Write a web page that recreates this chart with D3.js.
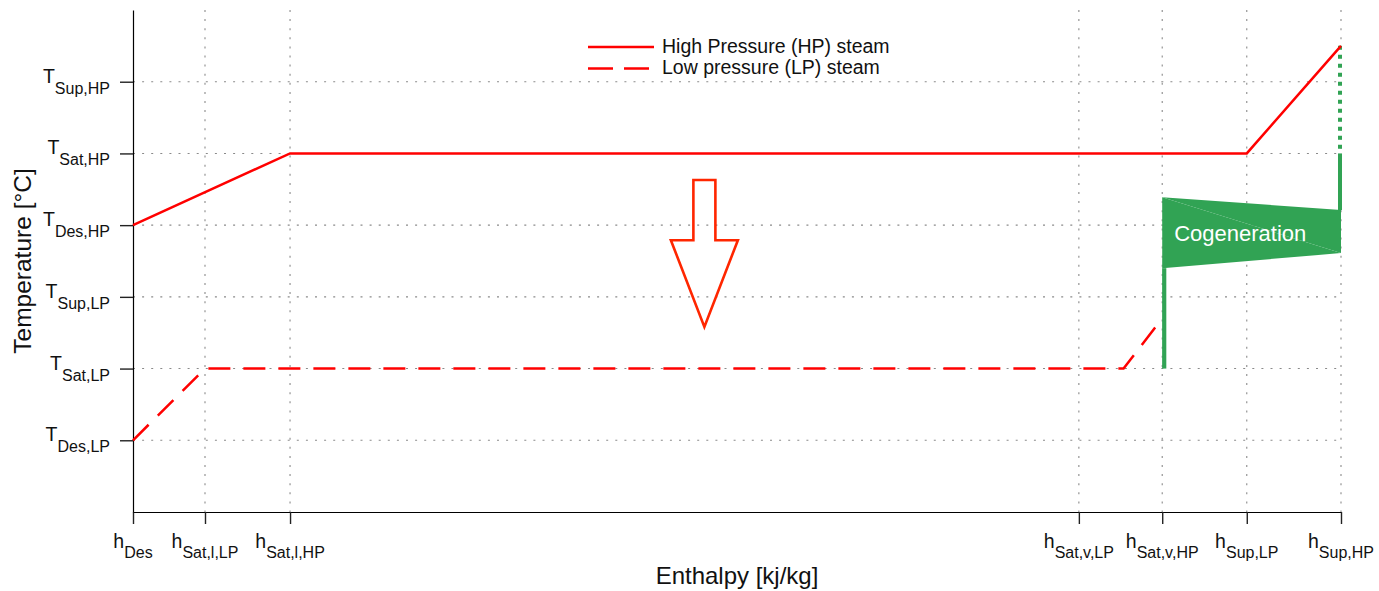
<!DOCTYPE html>
<html>
<head>
<meta charset="utf-8">
<script src="https://cdn.jsdelivr.net/npm/d3@7"></script>
<style>
  html, body { margin: 0; padding: 0; background: #fff; }
  svg { display: block; font-family: "Liberation Sans", Arial, Helvetica, sans-serif; }
</style>
</head>
<body>
<svg id="chart" width="1379" height="591"></svg>
<script>
// Enthalpy tick positions (relative scale) and their subscript labels
const hTickSubs   = ["Des", "Sat,l,LP", "Sat,l,HP", "Sat,v,LP", "Sat,v,HP", "Sup,LP", "Sup,HP"];
const hTickValues = [0, 5.96, 13.0, 78.3, 85.2, 92.2, 100];

// Temperature tick positions (relative scale) and their subscript labels
const tTickSubs   = ["Des,LP", "Sat,LP", "Sup,LP", "Des,HP", "Sat,HP", "Sup,HP"];
const tTickValues = [1, 2, 3, 4, 5, 6];

// High pressure steam profile: enthalpy / temperature
const hpH = [0, 13.0, 92.2, 100];
const hpT = [4, 5, 5, 6.5];

// Low pressure steam profile
const lpH = [0, 5.96, 82.0, 85.2];
const lpT = [1, 2, 2, 2.7];

// Cogeneration band: left and right edges (enthalpy, lower / upper temperature)
const cogenH     = [85.2, 100];
const cogenLower = [3.40, 3.61];
const cogenUpper = [4.39, 4.21];

// Vertical stems attached to the band
const stemLeftT     = [2, 3.40];  // at h = 85.2
const stemRightT    = [3.61, 5];  // solid, at h = 100
const stemRightDotT = [5, 6.5];   // dotted, at h = 100

// Downward arrow: centre enthalpy, shaft top, shoulder, tip temperature
const arrowH = 47.3;
const arrowT = [4.63, 3.79, 2.58];

const legendItems = ["High Pressure (HP) steam", "Low pressure (LP) steam"];

const svg = d3.select("#chart");
const RED = "#ff0000";
const GREEN = "#31a354";
const DASH = "22,13";

const x = d3.scaleLinear().domain([0, 100]).range([133, 1341]);
const y = d3.scaleLinear().domain([0, 7]).range([512, 10]);

// Dotted grid
const grid = svg.append("g").attr("stroke", "#8a8a8a").attr("stroke-width", 1.1)
  .attr("stroke-dasharray", "2,7.1");
grid.selectAll("line.v").data(hTickValues.slice(1)).join("line")
  .attr("class", "v")
  .attr("x1", d => x(d)).attr("x2", d => x(d))
  .attr("y1", y(7)).attr("y2", y(0));
grid.selectAll("line.h").data(tTickValues).join("line")
  .attr("class", "h")
  .attr("x1", x(0)).attr("x2", x(100))
  .attr("y1", d => y(d)).attr("y2", d => y(d));

// Axes
const xAxis = d3.axisBottom(x).tickValues(hTickValues).tickSizeInner(12).tickSizeOuter(0).tickFormat("");
const yAxis = d3.axisLeft(y).tickValues(tTickValues).tickSizeInner(13).tickSizeOuter(0).tickFormat("");
const gx = svg.append("g").attr("transform", `translate(0,${y(0)})`).call(xAxis);
const gy = svg.append("g").attr("transform", `translate(${x(0)},0)`).call(yAxis);
[gx, gy].forEach(g => {
  g.select(".domain").attr("stroke", "#000").attr("stroke-width", 1.2);
  g.selectAll(".tick line").attr("stroke", "#222").attr("stroke-width", 1.4);
});

// Tick labels with subscripts
const xl = svg.append("g").attr("fill", "#111").attr("text-anchor", "middle");
hTickValues.forEach((v, i) => {
  const t = xl.append("text").attr("x", x(v)).attr("y", 548).attr("font-size", 19.5);
  t.append("tspan").text("h");
  t.append("tspan").attr("font-size", 16).attr("dy", 10).text(hTickSubs[i]);
});
const yl = svg.append("g").attr("fill", "#111").attr("text-anchor", "end");
tTickValues.forEach((v, i) => {
  const t = yl.append("text").attr("x", 110).attr("y", y(v) + 1).attr("font-size", 19.5);
  t.append("tspan").text("T");
  t.append("tspan").attr("font-size", 16).attr("dy", 11).text(tTickSubs[i]);
});

// Axis titles
svg.append("text").attr("x", (x(0) + x(100)) / 2).attr("y", 584)
  .attr("text-anchor", "middle").attr("font-size", 24).attr("fill", "#111")
  .text("Enthalpy [kj/kg]");
svg.append("text")
  .attr("transform", `translate(31,${(y(0) + y(7)) / 2}) rotate(-90)`)
  .attr("text-anchor", "middle").attr("font-size", 24.5).attr("fill", "#111")
  .text("Temperature [°C]");

const line = d3.line().x(d => x(d[0])).y(d => y(d[1]));

// Cogeneration band, drawn as two triangles
const [hL, hR] = cogenH;
const band = svg.append("g").attr("fill", GREEN);
band.append("path").attr("d", line([[hL, cogenUpper[0]], [hR, cogenUpper[1]], [hR, cogenLower[1]]]) + "Z");
band.append("path").attr("d", line([[hL, cogenUpper[0]], [hR, cogenLower[1]], [hL, cogenLower[0]]]) + "Z");

// Stems
svg.append("path").attr("d", line(stemLeftT.map(t => [hL, t])))
  .attr("stroke", GREEN).attr("stroke-width", 4.2).attr("fill", "none")
  .attr("transform", "translate(2,0)");
svg.append("path").attr("d", line([[hR, cogenUpper[1]], [hR, stemRightT[1]]]))
  .attr("stroke", GREEN).attr("stroke-width", 4).attr("fill", "none")
  .attr("transform", "translate(-1,0)");
svg.append("path").attr("d", line(stemRightDotT.map(t => [hR, t]).reverse()))
  .attr("stroke", GREEN).attr("stroke-width", 4).attr("fill", "none")
  .attr("stroke-dasharray", "4,5").attr("transform", "translate(-1,0)");

svg.append("text").attr("x", x(hL) + 12).attr("y", 241)
  .attr("font-size", 22).attr("fill", "#fff").text("Cogeneration");

// Steam profiles
svg.append("path").attr("d", line(hpH.map((h, i) => [h, hpT[i]])))
  .attr("stroke", RED).attr("stroke-width", 2.5).attr("fill", "none");
svg.append("path").attr("d", line(lpH.map((h, i) => [h, lpT[i]])))
  .attr("stroke", RED).attr("stroke-width", 2.5).attr("fill", "none")
  .attr("stroke-dasharray", DASH);

// Downward arrow
const ax = x(arrowH), shaft = 11, head = 33.5;
const [aTop, aShoulder, aTip] = arrowT.map(y);
svg.append("path")
  .attr("d", `M${ax - shaft},${aTop}H${ax + shaft}V${aShoulder}H${ax + head}L${ax},${aTip}L${ax - head},${aShoulder}H${ax - shaft}Z`)
  .attr("fill", "none").attr("stroke", "#ff2600").attr("stroke-width", 2.6)
  .attr("stroke-linejoin", "miter");

// Legend
const lg = svg.append("g");
legendItems.forEach((label, i) => {
  const ly = 47 + i * 21.5;
  lg.append("line").attr("x1", 588).attr("x2", 654).attr("y1", ly).attr("y2", ly)
    .attr("stroke", RED).attr("stroke-width", 2.5)
    .attr("stroke-dasharray", i === 1 ? "25,11" : null);
  lg.append("text").attr("x", 662).attr("y", ly + 5.5).attr("font-size", 19.5)
    .attr("fill", "#111").text(label);
});
</script>
</body>
</html>
